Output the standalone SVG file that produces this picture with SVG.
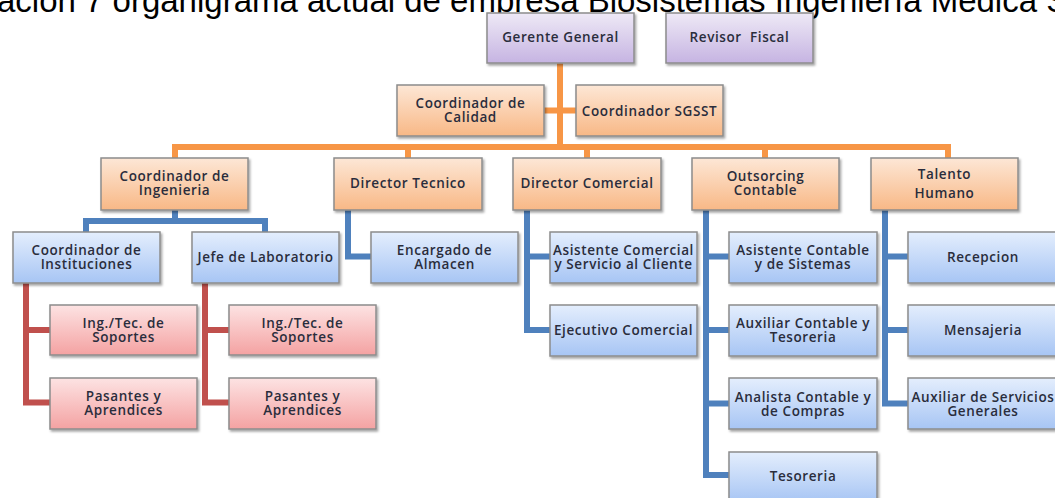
<svg xmlns="http://www.w3.org/2000/svg" width="1055" height="498" viewBox="0 0 1055 498">
  <defs>
    <linearGradient id="gPurple" x1="0" y1="0" x2="0" y2="1">
      <stop offset="0" stop-color="#eee9f6"/>
      <stop offset="1" stop-color="#c6b4e2"/>
    </linearGradient>
    <linearGradient id="gOrange" x1="0" y1="0" x2="0" y2="1">
      <stop offset="0" stop-color="#fde7d6"/>
      <stop offset="1" stop-color="#f8b886"/>
    </linearGradient>
    <linearGradient id="gBlue" x1="0" y1="0" x2="0" y2="1">
      <stop offset="0" stop-color="#e4eefd"/>
      <stop offset="1" stop-color="#a7c5f4"/>
    </linearGradient>
    <linearGradient id="gRed" x1="0" y1="0" x2="0" y2="1">
      <stop offset="0" stop-color="#fde3e3"/>
      <stop offset="1" stop-color="#f4a2a2"/>
    </linearGradient>
    <filter id="shadow" x="-10%" y="-10%" width="125%" height="135%">
      <feDropShadow dx="1.5" dy="2" stdDeviation="1.2" flood-color="#000" flood-opacity="0.35"/>
    </filter>
  </defs>
  <style>
    .title { font-family: "Liberation Sans", Arial, sans-serif; font-size: 33px; fill: #000; }
    .box { stroke: #8c8c8c; stroke-width: 1.5; filter: url(#shadow); }
    .purple { fill: url(#gPurple); }
    .orange { fill: url(#gOrange); }
    .blue { fill: url(#gBlue); }
    .red { fill: url(#gRed); }
    .lbl { font-family: "Open Sans", "DejaVu Sans", sans-serif; font-size: 13.5px; font-weight: 600; letter-spacing: 0.6px; fill: #2a2d3c; text-anchor: middle; dominant-baseline: central; }
    .conn { fill: none; stroke-width: 6; stroke-linejoin: miter; stroke-linecap: butt; }
    .c-orange { stroke: #f79646; }
    .c-blue { stroke: #4f81bd; }
    .c-red { stroke: #c0504d; }
  </style>

  <text class="title" x="-14" y="12">ración 7 organigrama actual de empresa Biosistemas Ingeniería Medica S</text>

  <g id="connectors">
    <path class="conn c-orange" d="M560,63 V147 M544,110.5 H576 M175,158 V147 H948 V158 M408,147 V158 M587,147 V158 M765,147 V158"/>
    <path class="conn c-blue" d="M86,232 V221 H265 V232 M175,210 V221"/>
    <path class="conn c-blue" d="M348,210 V256.5 H371"/>
    <path class="conn c-blue" d="M527,210 V330 H550 M527,256.5 H550"/>
    <path class="conn c-blue" d="M706,210 V475 H729 M706,256.5 H729 M706,330 H729 M706,403.5 H729"/>
    <path class="conn c-blue" d="M885,210 V403.5 H908 M885,256.5 H908 M885,330 H908"/>
    <path class="conn c-red" d="M26,283 V402.5 H50 M26,330 H50"/>
    <path class="conn c-red" d="M205,283 V402.5 H229 M205,330 H229"/>
  </g>

  <g id="gerente-general">
    <rect class="box purple" x="487" y="13" width="147" height="50"/>
    <text class="lbl" x="560.5" y="36.5">Gerente General</text>
  </g>
  <g id="revisor-fiscal">
    <rect class="box purple" x="666" y="13" width="147" height="50"/>
    <text class="lbl" x="739.5" y="36.5" xml:space="preserve">Revisor  Fiscal</text>
  </g>

  <g id="coordinador-calidad">
    <rect class="box orange" x="397" y="85" width="147" height="51"/>
    <text class="lbl" x="470.5" y="103">Coordinador de</text>
    <text class="lbl" x="470.5" y="117">Calidad</text>
  </g>
  <g id="coordinador-sgsst">
    <rect class="box orange" x="576" y="85" width="147" height="51"/>
    <text class="lbl" x="649.5" y="110.5">Coordinador SGSST</text>
  </g>

  <g id="coordinador-ingenieria">
    <rect class="box orange" x="101" y="158" width="147" height="52"/>
    <text class="lbl" x="174.5" y="176">Coordinador de</text>
    <text class="lbl" x="174.5" y="190">Ingenieria</text>
  </g>
  <g id="director-tecnico">
    <rect class="box orange" x="334" y="158" width="148" height="52"/>
    <text class="lbl" x="408" y="183">Director Tecnico</text>
  </g>
  <g id="director-comercial">
    <rect class="box orange" x="513" y="158" width="148" height="52"/>
    <text class="lbl" x="587" y="183">Director Comercial</text>
  </g>
  <g id="outsorcing-contable">
    <rect class="box orange" x="692" y="158" width="147" height="52"/>
    <text class="lbl" x="765.5" y="176">Outsorcing</text>
    <text class="lbl" x="765.5" y="190">Contable</text>
  </g>
  <g id="talento-humano">
    <rect class="box orange" x="871" y="158" width="147" height="52"/>
    <text class="lbl" x="944.5" y="173.5">Talento</text>
    <text class="lbl" x="944.5" y="193">Humano</text>
  </g>

  <g id="coordinador-instituciones">
    <rect class="box blue" x="13" y="232" width="147" height="51"/>
    <text class="lbl" x="86.5" y="249.5">Coordinador de</text>
    <text class="lbl" x="86.5" y="263.5">Instituciones</text>
  </g>
  <g id="jefe-laboratorio">
    <rect class="box blue" x="192" y="232" width="147" height="51"/>
    <text class="lbl" x="265.5" y="256.5">Jefe de Laboratorio</text>
  </g>
  <g id="encargado-almacen">
    <rect class="box blue" x="371" y="232" width="147" height="51"/>
    <text class="lbl" x="444.5" y="249.5">Encargado de</text>
    <text class="lbl" x="444.5" y="263.5">Almacen</text>
  </g>
  <g id="asistente-comercial">
    <rect class="box blue" x="550" y="232" width="147" height="51"/>
    <text class="lbl" x="623.5" y="249.5">Asistente Comercial</text>
    <text class="lbl" x="623.5" y="263.5">y Servicio al Cliente</text>
  </g>
  <g id="ejecutivo-comercial">
    <rect class="box blue" x="550" y="305" width="147" height="51"/>
    <text class="lbl" x="623.5" y="329.5">Ejecutivo Comercial</text>
  </g>
  <g id="asistente-contable">
    <rect class="box blue" x="729" y="232" width="148" height="51"/>
    <text class="lbl" x="803" y="249.5">Asistente Contable</text>
    <text class="lbl" x="803" y="263.5">y de Sistemas</text>
  </g>
  <g id="auxiliar-contable">
    <rect class="box blue" x="729" y="305" width="148" height="51"/>
    <text class="lbl" x="803" y="323">Auxiliar Contable y</text>
    <text class="lbl" x="803" y="337">Tesoreria</text>
  </g>
  <g id="analista-contable">
    <rect class="box blue" x="729" y="378" width="148" height="51"/>
    <text class="lbl" x="803" y="396.5">Analista Contable y</text>
    <text class="lbl" x="803" y="410.5">de Compras</text>
  </g>
  <g id="tesoreria">
    <rect class="box blue" x="729" y="452" width="148" height="50"/>
    <text class="lbl" x="803" y="475.5">Tesoreria</text>
  </g>
  <g id="recepcion">
    <rect class="box blue" x="908" y="232" width="150" height="51"/>
    <text class="lbl" x="983" y="256.5">Recepcion</text>
  </g>
  <g id="mensajeria">
    <rect class="box blue" x="908" y="305" width="150" height="51"/>
    <text class="lbl" x="983" y="329.5">Mensajeria</text>
  </g>
  <g id="auxiliar-servicios">
    <rect class="box blue" x="908" y="378" width="150" height="51"/>
    <text class="lbl" x="983" y="396.5">Auxiliar de Servicios</text>
    <text class="lbl" x="983" y="410.5">Generales</text>
  </g>

  <g id="ing-tec-soportes-1">
    <rect class="box red" x="50" y="305" width="147" height="50"/>
    <text class="lbl" x="123.5" y="322.5">Ing./Tec. de</text>
    <text class="lbl" x="123.5" y="336.5">Soportes</text>
  </g>
  <g id="pasantes-1">
    <rect class="box red" x="50" y="378" width="147" height="51"/>
    <text class="lbl" x="123.5" y="396">Pasantes y</text>
    <text class="lbl" x="123.5" y="410">Aprendices</text>
  </g>
  <g id="ing-tec-soportes-2">
    <rect class="box red" x="229" y="305" width="147" height="50"/>
    <text class="lbl" x="302.5" y="322.5">Ing./Tec. de</text>
    <text class="lbl" x="302.5" y="336.5">Soportes</text>
  </g>
  <g id="pasantes-2">
    <rect class="box red" x="229" y="378" width="147" height="51"/>
    <text class="lbl" x="302.5" y="396">Pasantes y</text>
    <text class="lbl" x="302.5" y="410">Aprendices</text>
  </g>
</svg>
